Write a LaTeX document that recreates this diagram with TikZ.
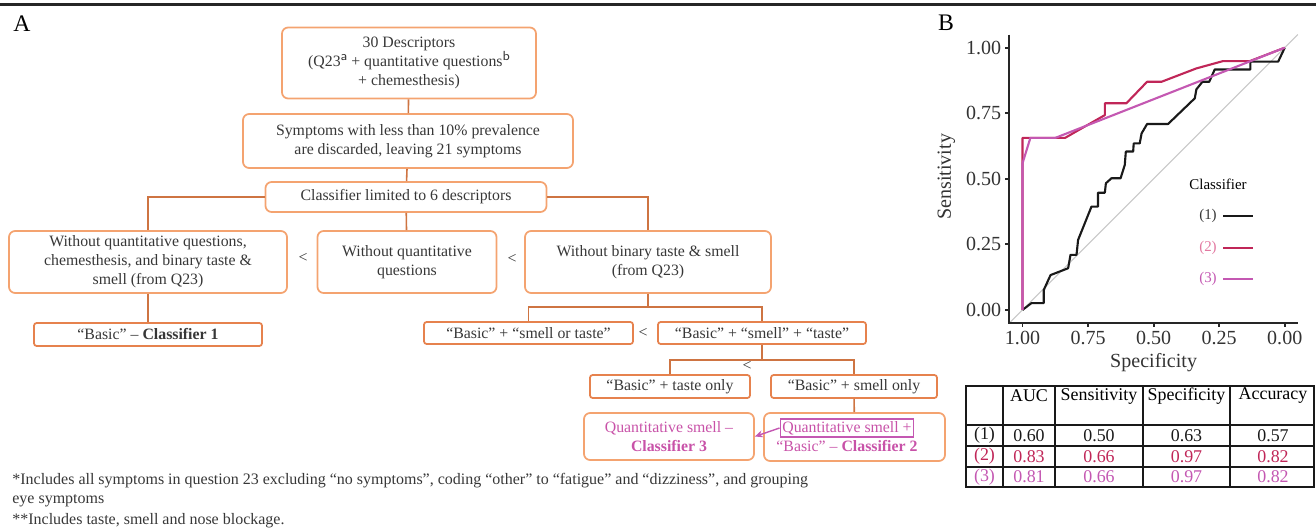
\documentclass[tikz,border=0pt]{standalone}
\usepackage{fontspec}
\setmainfont{Liberation Serif}
\usepackage{xcolor}
\usetikzlibrary{arrows.meta}
\definecolor{boxor}{RGB}{244,163,112}
\definecolor{boxdk}{RGB}{230,130,78}
\definecolor{linkor}{RGB}{206,116,66}
\definecolor{txtgray}{RGB}{55,55,55}
\definecolor{clsone}{RGB}{25,25,25}
\definecolor{clstwo}{RGB}{192,38,88}
\definecolor{clsthree}{RGB}{196,88,178}
\definecolor{pinktxt}{RGB}{200,82,168}
\definecolor{legtwo}{RGB}{226,120,160}
\tikzset{
  flow/.style={draw=boxor,line width=1pt,rounded corners=3.5pt,text=txtgray,align=center,inner sep=0pt,font=\fontsize{9}{10.8}\selectfont},
  flowd/.style={flow,draw=boxdk,rounded corners=1.5pt},
  sz/.style 2 args={minimum width=#1*0.02cm,minimum height=#2*0.02cm},
  lnk/.style={draw=linkor,line width=0.9pt},
  cmp/.style={text=txtgray,inner sep=0pt,font=\fontsize{9}{10.8}\selectfont},
  pinkarr/.style={draw=clsthree,line width=0.8pt,-{Stealth[length=1.6mm,width=1.4mm]}},
  fnote/.style={anchor=west,inner sep=0pt,text=txtgray,font=\fontsize{9.1}{10}\selectfont},
  ttl/.style={inner sep=0pt,font=\fontsize{13.5}{14}\selectfont},
  ax/.style={line width=1.1pt,draw=black!85},
  diag/.style={line width=0.6pt,draw=black!22},
  roc/.style={line width=1.2pt,line join=round},
  tkl/.style={inner sep=0pt,text=black!80,font=\fontsize{11.4}{12}\selectfont},
  leg/.style={inner sep=0pt,font=\fontsize{8.5}{10}\selectfont},
  tbl/.style={line width=0.9pt,draw=black!90},
  tbt/.style={inner sep=0pt,font=\fontsize{10.2}{12}\selectfont}
}
\newcommand{\bsc}{“Basic”}
\newcommand{\supmk}[1]{\raisebox{0.4em}{\sffamily\fontsize{7.5}{8}\selectfont #1}}

\begin{document}
\begin{tikzpicture}[x=0.02cm,y=-0.02cm]
\useasboundingbox (0,0) rectangle (1316,531);
\draw[line width=1.2pt,black!85] (0,4.5) -- (1316,4.5);
\node[ttl] (pa) at (22,24) {A}; \node[ttl] (pb) at (946,23) {B};

\node[flow,sz={254}{71}] (b1) at (409,63) {30 Descriptors\\(Q23\supmk{a} + quantitative questions\supmk{b}\\+ chemesthesis)};
\node[flow,sz={330}{54}] (b2) at (408,141) {Symptoms with less than 10\% prevalence\\are discarded, leaving 21 symptoms};
\node[flow,sz={281}{30}] (b3) at (406,197) {Classifier limited to 6 descriptors};
\node[flow,sz={278}{62}] (b4) at (148,262) {Without quantitative questions,\\chemesthesis, and binary taste \&\\smell (from Q23)};
\node[flow,sz={179}{62}] (b5) at (407,262) {Without quantitative\\questions};
\node[flow,sz={246}{62}] (b6) at (648,262) {Without binary taste \& smell\\(from Q23)};
\node[flowd,sz={228}{23}] (b7) at (148,334.5) {\bsc{} – \textbf{Classifier 1}};
\node[flowd,sz={209}{22}] (b8) at (528.5,333) {\bsc{} + “smell or taste”};
\node[flowd,sz={208}{22}] (b9) at (762,333) {\bsc{} + “smell” + “taste”};
\node[flowd,sz={160}{23}] (b10) at (670,386.5) {\bsc{} + taste only};
\node[flowd,sz={166}{23}] (b11) at (854,386.5) {\bsc{} + smell only};
\node[flow,sz={170}{47},text=pinktxt] (b12) at (669,436.5) {Quantitative smell –\\\textbf{Classifier 3}};
\node[flow,sz={181}{48}] (b13) at (854.5,437) {};
\node[cmp,draw=clsthree,line width=0.8pt,inner sep=1.2pt,text=pinktxt] (q2) at (847,428) {Quantitative smell +};
\node[cmp,text=pinktxt] (c2) at (847,446) {\bsc{} – \textbf{Classifier 2}};
\node[cmp] (lt1) at (303,258) {<}; \node[cmp] (lt2) at (512,259) {<};
\node[cmp] (lt3) at (643,333) {<}; \node[cmp] (lt4) at (747,366) {<};

\draw[lnk] (b1) -- (b2); \draw[lnk] (b2) -- (b3); \draw[lnk] (b3) -- (b5);
\draw[lnk] (b3.west) -| (b4.north); \draw[lnk] (b3.east) -| (b6.north);
\draw[lnk] (b4) -- (b7);
\coordinate (j1) at (648,307); \draw[lnk] (b6.south) -- (j1);
\draw[lnk] (j1) -| (b8.north); \draw[lnk] (j1) -| (b9.north);
\coordinate (j2) at (762,360); \draw[lnk] (b9.south) -- (j2);
\draw[lnk] (j2) -| (b10.north); \draw[lnk] (j2) -| (b11.north);
\draw[lnk] (b11) -- (b13);
\draw[pinkarr] (q2.west) -- (b12.east);

\node[fnote] (f1) at (12,481) {*Includes all symptoms in question 23 excluding “no symptoms”, coding “other” to “fatigue” and “dizziness”, and grouping};
\node[fnote] (f2) at (12,501) {eye symptoms};
\node[fnote] (f3) at (12,521) {**Includes taste, smell and nose blockage.};

\begin{scope}[shift={(20.454cm,-6.2cm)},x=5.246cm,y=5.246cm]
\draw[diag] (-0.05,-0.05) -- (1.05,1.05);
\draw[ax] (-0.05,1.05) -- (-0.05,-0.05) -- (1.05,-0.05);
\foreach \v/\lb in {0/1.00,0.25/0.75,0.5/0.50,0.75/0.25,1/0.00} {
  \draw[ax] (\v,-0.05) -- ++(0,-0.016);
  \node[tkl] at (\v,-0.107) {\lb};
}
\foreach \v/\lb in {0/0.00,0.25/0.25,0.5/0.50,0.75/0.75,1/1.00} {
  \draw[ax] (-0.05,\v) -- ++(-0.016,0);
  \node[tkl,anchor=east] at (-0.08,\v) {\lb};
}
\node[tkl] (xl) at (0.5,-0.2) {Specificity};
\node[tkl,rotate=90] (yl) at (-0.29,0.508) {Sensitivity};
\draw[roc,clsone] plot coordinates {(0,0) (0.034,0.026) (0.081,0.026) (0.081,0.076) (0.107,0.133) (0.174,0.159) (0.183,0.21) (0.206,0.21) (0.212,0.267) (0.263,0.394) (0.288,0.394) (0.288,0.447) (0.314,0.447) (0.318,0.483) (0.339,0.502) (0.374,0.502) (0.39,0.553) (0.394,0.604) (0.422,0.604) (0.424,0.635) (0.447,0.635) (0.454,0.673) (0.475,0.709) (0.555,0.709) (0.657,0.807) (0.663,0.841) (0.686,0.870) (0.712,0.870) (0.733,0.917) (0.869,0.917) (0.869,0.947) (0.975,0.947) (1,1)};
\draw[roc,clstwo] plot coordinates {(0,0) (0,0.656) (0.162,0.656) (0.314,0.743) (0.314,0.788) (0.396,0.788) (0.475,0.870) (0.53,0.870) (0.663,0.921) (0.765,0.949) (0.867,0.949) (1,1)};
\draw[roc,clsthree] plot coordinates {(0,0) (0,0.559) (0.03,0.656) (0.125,0.656) (1,1)};
\end{scope}

\node[leg] (lg) at (1218,184) {Classifier};
\foreach \yy/\lb/\tc/\lc in {216/(1)/txtgray/clsone,248/(2)/legtwo/clstwo,279/(3)/clsthree/clsthree} {
  \node[leg,text=\tc] (lg\lb) at (1208,\yy) {\lb};
  \draw[roc,\lc] (1223,\yy) -- (1253,\yy);
}

\draw[tbl] (966,386) rectangle (1314,487);
\foreach \yy in {425,446,467} \draw[tbl] (966,\yy) -- (1314,\yy);
\foreach \xx in {1003,1055,1143,1230} \draw[tbl] (\xx,386) -- (\xx,487);
\foreach \xx/\hd in {1029/AUC,1099/Sensitivity,1186.5/Specificity,1273/Accuracy} \node[tbt] at (\xx,396) {\hd};
\foreach \yy/\rc/\tc/\va/\vb/\vc/\vd in {435.5/(1)/clsone/0.60/0.50/0.63/0.57,456.5/(2)/clstwo/0.83/0.66/0.97/0.82,477/(3)/clsthree/0.81/0.66/0.97/0.82} {
  \node[tbt,text=\tc] at (984.5,\yy) {\rc};
  \node[tbt,text=\tc] at (1029,\yy) {\va}; \node[tbt,text=\tc] at (1099,\yy) {\vb};
  \node[tbt,text=\tc] at (1186.5,\yy) {\vc}; \node[tbt,text=\tc] at (1273,\yy) {\vd};
}
\end{tikzpicture}
\end{document}
